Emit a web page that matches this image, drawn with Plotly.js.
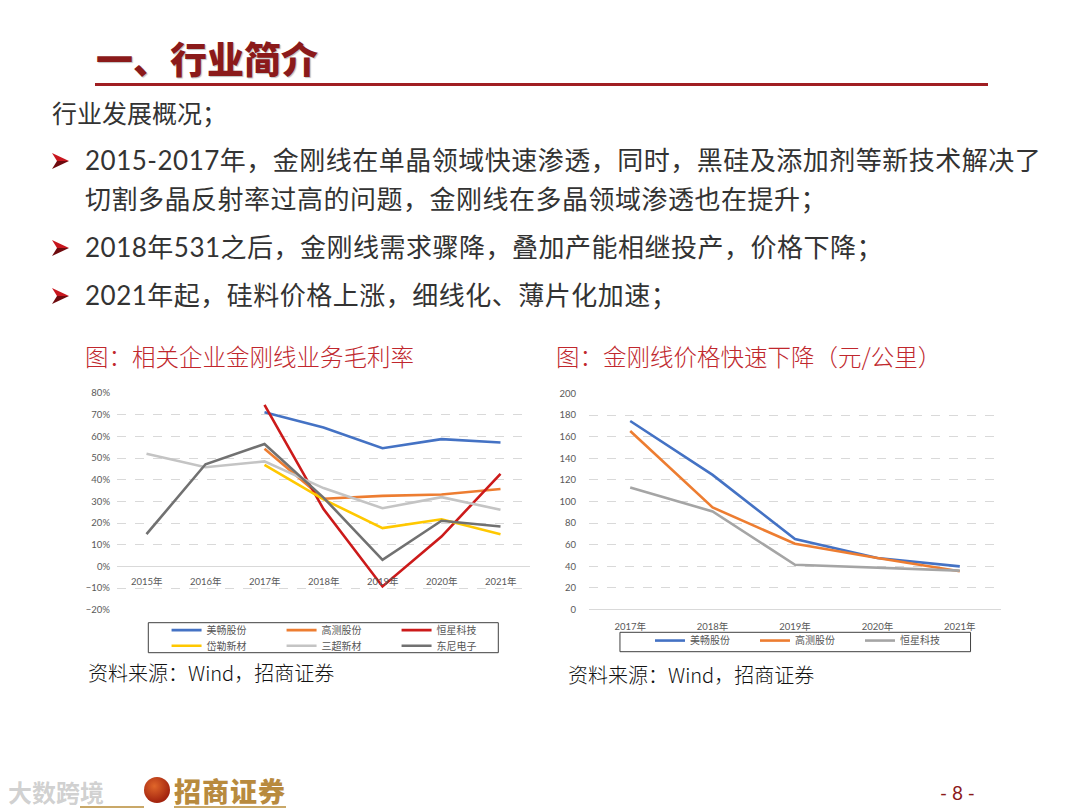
<!DOCTYPE html>
<html>
<head>
<meta charset="utf-8">
<script src="https://cdn.plot.ly/plotly-3.0.1.min.js"></script>
<style>
  html, body { margin: 0; padding: 0; background: #fff; }
  #page { position: relative; width: 1080px; height: 810px; overflow: hidden; background: #fff;
          font-family: Lato, "Noto Sans CJK SC", sans-serif; }
  .abs { position: absolute; white-space: nowrap; }
  #title { left: 96px; top: 36px; font-size: 37px; line-height: 44px; font-weight: 900; color: #8B1A1A;
           font-family: "Noto Sans CJK SC", sans-serif; text-shadow: 1px 1px 1px rgba(0,0,0,0.25); }
  #rule { left: 95px; top: 83px; width: 893px; height: 3px; background: #A01E22; }
  #sub { left: 52px; top: 97px; font-size: 25px; line-height: 32px; color: #333; }
  .bul { left: 85px; font-size: 26px; line-height: 34px; color: #333; letter-spacing: 0.5px; }
  .arr { left: 52px; width: 18px; height: 18px; }
  .ctitle { font-size: 23.5px; line-height: 30px; color: #C0272D; font-family: "Noto Sans CJK SC", sans-serif; font-weight: 300; }
  .src { font-size: 20px; line-height: 26px; color: #111; font-family: "Noto Sans CJK SC", sans-serif; font-weight: 300; }
  #chartL { position: absolute; left: 80px; top: 380px; width: 460px; height: 280px; }
  #chartR { position: absolute; left: 540px; top: 380px; width: 470px; height: 280px; }
  #pg { left: 940px; top: 781px; font-size: 19px; line-height: 24px; color: #8B1A1A; }
  #logo { left: 174px; top: 776px; font-size: 27px; line-height: 30px; font-weight: 900; color: #B88A3E; letter-spacing: 1px;
          font-family: "Noto Sans CJK SC", sans-serif; }
  #logoline { left: 174px; top: 806px; width: 112px; height: 2px; background: #C9A868; }
  #logoline2 { left: 80px; top: 806px; width: 64px; height: 2px; background: #C9A868; }
  #circ { left: 144px; top: 777px; width: 26px; height: 26px; border-radius: 50%;
          background: radial-gradient(circle at 40% 35%, #E0662A, #A3240F 70%); }
  #wm { left: 8px; top: 778px; font-size: 24px; line-height: 28px; color: rgba(150,150,150,0.45); font-weight: 700;
        font-family: "Noto Sans CJK SC", sans-serif; }
</style>
</head>
<body>
<div id="page">
  <div class="abs" id="title">一、行业简介</div>
  <div class="abs" id="rule"></div>
  <div class="abs" id="sub">行业发展概况；</div>

  <svg class="abs arr" style="top:152px;" viewBox="0 0 18 18"><polygon points="0,1 17,9 5,9" fill="#C8161E"/><polygon points="0,17 17,9 5,9" fill="#6E0A0E"/></svg>
  <div class="abs bul" style="top:143px;">2015-2017年，金刚线在单晶领域快速渗透，同时，黑硅及添加剂等新技术解决了</div>
  <div class="abs bul" style="top:182px;">切割多晶反射率过高的问题，金刚线在多晶领域渗透也在提升；</div>
  <svg class="abs arr" style="top:239px;" viewBox="0 0 18 18"><polygon points="0,1 17,9 5,9" fill="#C8161E"/><polygon points="0,17 17,9 5,9" fill="#6E0A0E"/></svg>
  <div class="abs bul" style="top:230px;">2018年531之后，金刚线需求骤降，叠加产能相继投产，价格下降；</div>
  <svg class="abs arr" style="top:287px;" viewBox="0 0 18 18"><polygon points="0,1 17,9 5,9" fill="#C8161E"/><polygon points="0,17 17,9 5,9" fill="#6E0A0E"/></svg>
  <div class="abs bul" style="top:278px;">2021年起，硅料价格上涨，细线化、薄片化加速；</div>

  <div class="abs ctitle" style="left:85px; top:341px;">图：相关企业金刚线业务毛利率</div>
  <div class="abs ctitle" style="left:556px; top:341px;">图：金刚线价格快速下降（元/公里）</div>

  <div id="chartL"></div>
  <div id="chartR"></div>

  <div class="abs src" style="left:88px; top:660px;">资料来源：Wind，招商证券</div>
  <div class="abs src" style="left:568px; top:662px;">资料来源：Wind，招商证券</div>

  <div class="abs" id="wm">大数跨境</div>
  <div class="abs" id="circ"></div>
  <div class="abs" id="logo">招商证券</div>
  <div class="abs" id="logoline"></div>
  <div class="abs" id="logoline2"></div>
  <div class="abs" id="pg">- 8 -</div>
</div>

<script>
// ---------- Left chart data: gross margin of diamond-wire business ----------
const marginYears = ['2015年', '2016年', '2017年', '2018年', '2019年', '2020年', '2021年'];
const meichangMargin = [null, null, 0.712, 0.642, 0.546, 0.588, 0.572];
const gaoceMargin    = [null, null, 0.543, 0.313, 0.326, 0.332, 0.358];
const hengxingMargin = [null, null, 0.746, 0.265, -0.092, 0.138, 0.428];
const daileMargin    = [null, null, 0.469, 0.310, 0.177, 0.218, 0.149];
const sanchaoMargin  = [0.520, 0.458, 0.485, 0.362, 0.269, 0.320, 0.262];
const dongniMargin   = [0.149, 0.472, 0.565, 0.318, 0.031, 0.211, 0.185];
const marginTicks    = [-0.2, -0.1, 0, 0.1, 0.2, 0.3, 0.4, 0.5, 0.6, 0.7, 0.8];

// ---------- Right chart data: diamond-wire price (元/公里) ----------
const priceYears = ['2017年', '2018年', '2019年', '2020年', '2021年'];
const meichangPrice = [174.5, 124.6, 65.2, 47.7, 40.0];
const gaocePrice    = [165.2, 94.5, 60.9, 47.7, 35.4];
const hengxingPrice = [112.9, 90.8, 41.5, 38.5, 36.0];
const priceTicks    = [0, 20, 40, 60, 80, 100, 120, 140, 160, 180, 200];

const C = {
  blue: '#4472C4', orange: '#ED7D31', red: '#CC1A1A',
  yellow: '#FFC800', lgray: '#C4C4C4', dgray: '#717171'
};
const tickFont = { family: 'Lato, "Noto Sans CJK SC", sans-serif', size: 9.5, color: '#595959' };
const legFont = { family: '"Noto Sans CJK SC", sans-serif', size: 10, color: '#555555' };

function line(name, x, y, color, leg) {
  return { type: 'scatter', mode: 'lines', name: name, x: x, y: y, legend: leg || 'legend',
           line: { color: color, width: 2.6 }, connectgaps: false, hoverinfo: 'skip' };
}

// Left chart
const tracesL = [
  line('美畅股份', marginYears, meichangMargin, C.blue),
  line('高测股份', marginYears, gaoceMargin, C.orange),
  line('恒星科技', marginYears, hengxingMargin, C.red),
  line('岱勒新材', marginYears, daileMargin, C.yellow, 'legend2'),
  line('三超新材', marginYears, sanchaoMargin, C.lgray, 'legend2'),
  line('东尼电子', marginYears, dongniMargin, C.dgray, 'legend2')
];
const legBase = { orientation: 'h', xanchor: 'left', yanchor: 'top',
                  entrywidthmode: 'pixels', itemwidth: 30, font: legFont,
                  bgcolor: 'rgba(0,0,0,0)', borderwidth: 0, tracegroupgap: 0 };
const layoutL = {
  width: 460, height: 280,
  margin: { l: 37, r: 10, t: 13, b: 50, autoexpand: false },
  paper_bgcolor: 'rgba(0,0,0,0)', plot_bgcolor: 'rgba(0,0,0,0)',
  showlegend: true,
  xaxis: { type: 'category', categoryarray: marginYears, range: [-0.5, 6.5],
           showticklabels: false, showgrid: false, zeroline: false, showline: false, ticks: '' },
  yaxis: { range: [-0.2008, 0.8008], tickvals: marginTicks, tickformat: '.0%',
           tickfont: tickFont, ticks: '', ticklabelstandoff: 6,
           showgrid: true, gridcolor: '#D9D9D9', griddash: 'dash', gridwidth: 1,
           zeroline: true, zerolinecolor: '#D9D9D9', zerolinewidth: 1, showline: false },
  legend: Object.assign({}, legBase, { x: 0.12, y: -0.026, entrywidth: 70 }),
  legend2: Object.assign({}, legBase, { x: 0.12, y: -0.098, entrywidth: 70 }),
  shapes: [{ type: 'rect', xref: 'paper', yref: 'paper',
             x0: (148.3 - 117) / 413, x1: (498.3 - 117) / 413,
             y0: -(652.7 - 610) / 217, y1: -(622.7 - 610) / 217,
             line: { color: '#404040', width: 1 }, fillcolor: 'rgba(0,0,0,0)', layer: 'below' }],
  annotations: marginYears.map(function (t) {
    return { x: t, y: -0.069, xref: 'x', yref: 'y', text: t, showarrow: false,
             xanchor: 'center', yanchor: 'middle', font: tickFont };
  })
};

// Right chart
const tracesR = [
  line('美畅股份', priceYears, meichangPrice, C.blue),
  line('高测股份', priceYears, gaocePrice, C.orange),
  line('恒星科技', priceYears, hengxingPrice, '#A5A5A5')
];
const layoutR = {
  width: 470, height: 280,
  margin: { l: 49, r: 9, t: 13, b: 50, autoexpand: false },
  paper_bgcolor: 'rgba(0,0,0,0)', plot_bgcolor: 'rgba(0,0,0,0)',
  showlegend: true,
  xaxis: { type: 'category', categoryarray: priceYears, range: [-0.5, 4.5],
           tickfont: tickFont, ticks: '', ticklabelstandoff: 9,
           showgrid: false, zeroline: false, showline: false },
  yaxis: { range: [-0.4, 200.4], tickvals: priceTicks, tickfont: tickFont, ticks: '',
           ticklabelstandoff: 12,
           showgrid: true, gridcolor: '#D9D9D9', griddash: 'dash', gridwidth: 1,
           zeroline: true, zerolinecolor: '#D9D9D9', zerolinewidth: 1, showline: false },
  legend: Object.assign({}, legBase, { x: 0.148, y: -0.074, entrywidth: 60 }),
  shapes: [{ type: 'rect', xref: 'paper', yref: 'paper',
             x0: (620 - 589) / 412.5, x1: (971 - 589) / 412.5,
             y0: -(651.7 - 610) / 217, y1: -(632.3 - 610) / 217,
             line: { color: '#404040', width: 1 }, fillcolor: 'rgba(0,0,0,0)', layer: 'below' }]
};

const cfg = { staticPlot: true, displayModeBar: false };
Plotly.newPlot('chartL', tracesL, layoutL, cfg);
Plotly.newPlot('chartR', tracesR, layoutR, cfg);
</script>
</body>
</html>
